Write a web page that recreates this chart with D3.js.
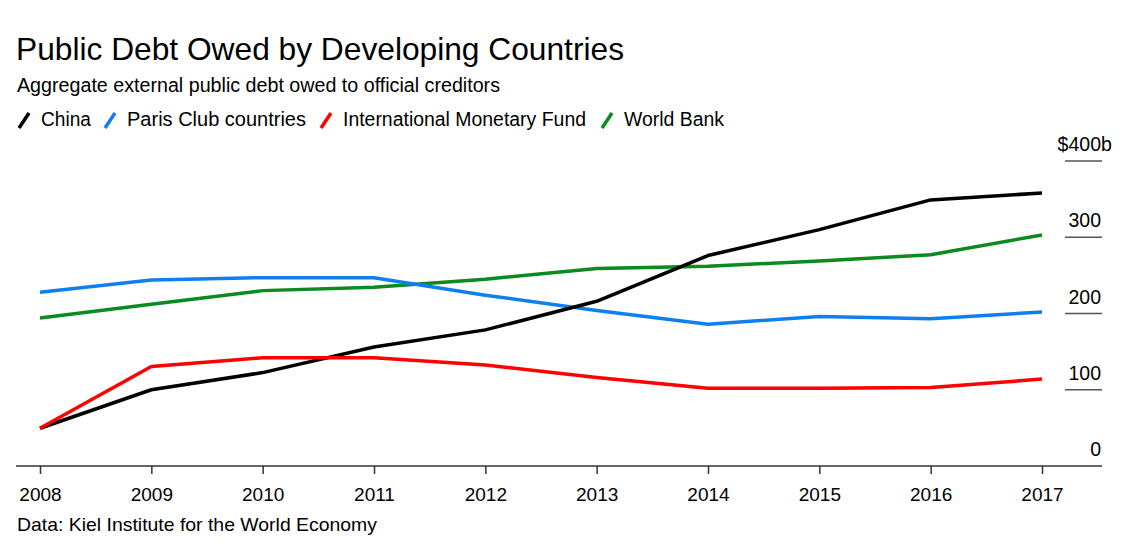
<!DOCTYPE html>
<html><head><meta charset="utf-8">
<script src="https://cdn.jsdelivr.net/npm/d3@7"></script>
<style>
html,body{margin:0;padding:0;background:#fff;}
svg text{font-family:"Liberation Sans","Helvetica",Arial,sans-serif;fill:#000;}
</style></head>
<body><svg id="c" width="1138" height="556"></svg>
<script>
const years = [2008,2009,2010,2011,2012,2013,2014,2015,2016,2017];
const china = [49.5,100,122.5,156,178.5,216,276,310,349,358];
const parisClub = [228,244,247,247,224,204,186,196,193,202];
const imf = [49.5,130.5,142,142,132.5,116,102,102,103,114];
const worldBank = [194,212,230,234.5,245,259,262,269,277,303];
const yTicks = [0,100,200,300,400];
const seriesNames = ["China","Paris Club countries","International Monetary Fund","World Bank"];
const seriesColors = ["#000000","#0f7ff0","#ff0000","#0a8a1f"];
const seriesData = [china, parisClub, imf, worldBank];

const svg = d3.select("#c");
const x = d3.scaleLinear().domain([2008,2017]).range([40,1042]);
const y = d3.scaleLinear().domain([0,400]).range([466,161]);

// Title etc
svg.append("text").attr("x",16).attr("y",60).attr("font-size",31.5).attr("textLength",608).attr("lengthAdjust","spacingAndGlyphs").text("Public Debt Owed by Developing Countries");
svg.append("text").attr("x",17).attr("y",92).attr("font-size",19.5).attr("textLength",483).attr("lengthAdjust","spacingAndGlyphs").text("Aggregate external public debt owed to official creditors");

// Legend
const legX = [18,104,320,601];
const legW = [50,179,243,100];
seriesNames.forEach((n,i)=>{
  const g = svg.append("g").attr("transform",`translate(${legX[i]},0)`);
  g.append("line").attr("x1",1).attr("y1",128).attr("x2",11).attr("y2",113)
    .attr("stroke",seriesColors[i]).attr("stroke-width",3.5);
  g.append("text").attr("x",23).attr("y",126).attr("font-size",19.5)
    .attr("textLength",legW[i]).attr("lengthAdjust","spacingAndGlyphs").text(n);
});

// Y axis (right) tick lines and labels
yTicks.forEach(t=>{
  if(t>0){
    svg.append("line").attr("x1",1065).attr("x2",1102).attr("y1",y(t)).attr("y2",y(t))
      .attr("stroke","#555").attr("stroke-width",1.5);
  }
  svg.append("text").attr("x",1101).attr("y",y(t)-10).attr("font-size",19.5)
    .attr("text-anchor","end").text(t===400?"$400":String(t));
  if(t===400){
    svg.append("text").attr("x",1101).attr("y",y(t)-10).attr("font-size",19.5).text("b");
  }
});

// X axis
const xAxis = d3.axisBottom(x).tickValues(years).tickFormat(d3.format("d")).tickSize(8).tickSizeOuter(0);
const gx = svg.append("g").attr("transform","translate(0,466)").call(xAxis);
gx.select(".domain").remove();
gx.selectAll(".tick line").attr("stroke","#333").attr("stroke-width",1.5);
gx.selectAll(".tick text").attr("font-size",19).attr("dy",0).attr("y",35)
  .attr("font-family","Liberation Sans, Arial, sans-serif").attr("fill","#000");
svg.append("line").attr("x1",16).attr("x2",1102).attr("y1",466).attr("y2",466)
  .attr("stroke","#333").attr("stroke-width",1.5);

// Lines
const line = d3.line().x((d,i)=>x(years[i])).y(d=>y(d));
const order = [3,1,0,2];
order.forEach(i=>{
  svg.append("path").datum(seriesData[i]).attr("d",line).attr("fill","none")
    .attr("stroke",seriesColors[i]).attr("stroke-width",3.5).attr("stroke-linejoin","round");
});

svg.append("text").attr("x",17).attr("y",531).attr("font-size",19).attr("textLength",360).attr("lengthAdjust","spacingAndGlyphs").text("Data: Kiel Institute for the World Economy");
</script></body></html>
